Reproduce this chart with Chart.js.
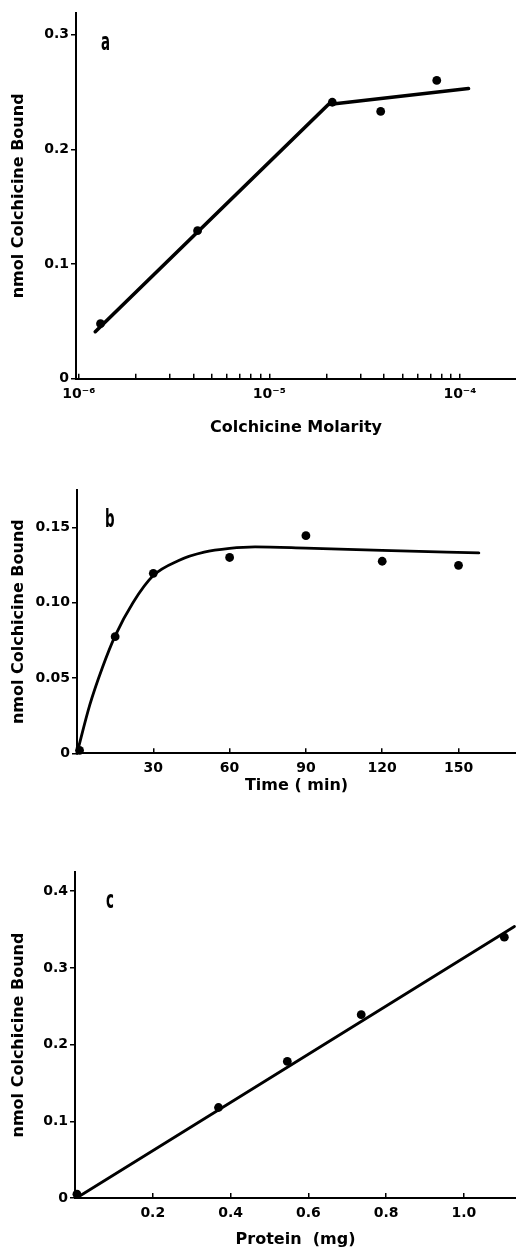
<!DOCTYPE html>
<html>
<head>
<meta charset="utf-8">
<script src="https://cdn.jsdelivr.net/npm/chart.js@4.4.1/dist/chart.umd.min.js"></script>
<style>
  html, body { margin: 0; padding: 0; background: #fff; }
  body { width: 516px; height: 1254px; position: relative; overflow: hidden; }
  canvas { position: absolute; left: 0; }
  .panel { position: absolute; font-family: 'DejaVu Sans Condensed', 'DejaVu Sans', sans-serif; font-weight: bold;
           font-size: 24px; line-height: 24px; color: #000; transform: scaleX(0.62); transform-origin: left top; }
</style>
</head>
<body>
<canvas id="ca" width="516" height="445" style="top:0px"></canvas>
<canvas id="cb" width="516" height="360" style="top:445px"></canvas>
<canvas id="cc" width="516" height="434" style="top:820px"></canvas>
<div class="panel" style="left:101px; top:30px">a</div>
<div class="panel" style="left:105px; top:507px">b</div>
<div class="panel" style="left:106px; top:888px">c</div>
<script>
// ---------- Panel a: binding vs colchicine molarity ----------
const molarityPts = [1.3e-6, 4.2e-6, 2.14e-5, 3.84e-5, 7.56e-5];
const boundPtsA   = [0.048, 0.129, 0.241, 0.233, 0.260];
const molarityFit = [1.22e-6, 2.04e-5, 1.11e-4];
const boundFitA   = [0.041, 0.239, 0.253];
const molarityTicks = [1e-6, 2e-6, 3e-6, 4e-6, 5e-6, 6e-6, 7e-6, 8e-6, 9e-6,
                       1e-5, 2e-5, 3e-5, 4e-5, 5e-5, 6e-5, 7e-5, 8e-5, 9e-5, 1e-4];
const molarityTickLabels = ['10\u207B\u2076', '', '', '', '', '', '', '', '',
                            '10\u207B\u2075', '', '', '', '', '', '', '', '', '10\u207B\u2074'];
const yTicksA = [0, 0.1, 0.2, 0.3];
const yTickLabelsA = ['0', '0.1', '0.2', '0.3'];

// ---------- Panel b: binding vs time ----------
const timePts    = [1, 15, 30, 60, 90, 120, 150];
const boundPtsB  = [0.002, 0.0774, 0.1195, 0.130, 0.1445, 0.1275, 0.1248];
const timeCurve  = [0, 5, 10, 15, 22, 30, 40, 50, 60, 70, 90, 120, 158];
const boundCurveB = [0, 0.032, 0.057, 0.078, 0.100, 0.118, 0.128, 0.1335, 0.136, 0.137, 0.1362, 0.1347, 0.133];
const xTicksB = [30, 60, 90, 120, 150];
const xTickLabelsB = ['30', '60', '90', '120', '150'];
const yTicksB = [0, 0.05, 0.10, 0.15];
const yTickLabelsB = ['0', '0.05', '0.10', '0.15'];

// ---------- Panel c: binding vs protein ----------
const proteinPts = [0.005, 0.369, 0.546, 0.736, 1.104];
const boundPtsC  = [0.005, 0.118, 0.178, 0.239, 0.340];
const proteinFit = [0.01, 1.13];
const boundFitC  = [0.002, 0.354];
const xTicksC = [0.2, 0.4, 0.6, 0.8, 1.0];
const xTickLabelsC = ['0.2', '0.4', '0.6', '0.8', '1.0'];
const yTicksC = [0, 0.1, 0.2, 0.3, 0.4];
const yTickLabelsC = ['0', '0.1', '0.2', '0.3', '0.4'];

const yTitle = 'nmol Colchicine Bound';

Chart.defaults.font.family = "'DejaVu Sans', sans-serif";
Chart.defaults.font.weight = 'bold';
Chart.defaults.font.size = 14;
Chart.defaults.color = '#000';

const zip = (xs, ys) => xs.map((x, i) => ({x: x, y: ys[i]}));

function xScale(type, min, max, tickVals, tickLabels, height, titleText, titlePadBottom, tickPad) {
  return {
    type: type, min: min, max: max,
    afterBuildTicks: s => { s.ticks = tickVals.map(v => ({value: v})); },
    afterFit: s => { s.height = height; s.paddingLeft = 0; s.paddingRight = 0; },
    ticks: { autoSkip: false, maxRotation: 0, minRotation: 0, padding: tickPad,
             callback: (v, i) => tickLabels[i], font: {size: 14, weight: 'bold'} },
    grid: { drawOnChartArea: false, drawTicks: true, tickLength: -5, color: '#000', lineWidth: 1.5 },
    border: { display: true, color: '#000', width: 2 },
    title: { display: true, text: titleText, font: {size: 16, weight: 'bold'},
             padding: {top: 0, bottom: titlePadBottom} }
  };
}
function yScale(min, max, tickVals, tickLabels, width) {
  return {
    type: 'linear', min: min, max: max,
    afterBuildTicks: s => { s.ticks = tickVals.map(v => ({value: v})); },
    afterFit: s => { s.width = width; },
    ticks: { autoSkip: false, padding: 2, callback: (v, i) => tickLabels[i], font: {size: 14, weight: 'bold'} },
    grid: { drawOnChartArea: false, drawTicks: true, tickLength: 5, color: '#000', lineWidth: 1.5 },
    border: { display: true, color: '#000', width: 2 },
    title: { display: true, text: yTitle, font: {size: 16, weight: 'bold'}, padding: {top: 9.4, bottom: 0} }
  };
}
function common(padTop) {
  return {
    responsive: false, animation: false, devicePixelRatio: 1,
    layout: { autoPadding: false, padding: { left: 0, right: 0, top: padTop, bottom: 0 } },
    plugins: { legend: {display: false}, tooltip: {enabled: false}, title: {display: false} },
    events: []
  };
}
function pointsDs(data) {
  return { data: data, showLine: false, pointRadius: 4.4, pointBackgroundColor: '#000',
           pointBorderColor: '#000', pointBorderWidth: 0, clip: false };
}
function lineDs(data, width, smooth) {
  return { data: data, showLine: true, pointRadius: 0, borderColor: '#000', borderWidth: width,
           fill: false, clip: false, cubicInterpolationMode: smooth ? 'monotone' : 'default', tension: 0,
           borderCapStyle: 'round', borderJoinStyle: 'round' };
}

// Panel a
new Chart(document.getElementById('ca'), {
  type: 'line',
  data: { datasets: [ lineDs(zip(molarityFit, boundFitA), 3.6, false), pointsDs(zip(molarityPts, boundPtsA)) ] },
  options: Object.assign(common(13), {
    scales: {
      x: xScale('logarithmic', 0.9667e-6, 1.97e-4, molarityTicks, molarityTickLabels, 66.3, 'Colchicine Molarity', 7.4, 12),
      y: yScale(0, 0.3188, yTicksA, yTickLabelsA, 76)
    }
  })
});

// Panel b
new Chart(document.getElementById('cb'), {
  type: 'line',
  data: { datasets: [ lineDs(zip(timeCurve, boundCurveB), 2.8, true), pointsDs(zip(timePts, boundPtsB)) ] },
  options: Object.assign(common(45), {
    scales: {
      x: xScale('linear', 0, 172.6, xTicksB, xTickLabelsB, 51.7, 'Time ( min)', 9.4, 12),
      y: yScale(0, 0.1748, yTicksB, yTickLabelsB, 77)
    }
  })
});

// Panel c
new Chart(document.getElementById('cc'), {
  type: 'line',
  data: { datasets: [ lineDs(zip(proteinFit, boundFitC), 2.8, false), pointsDs(zip(proteinPts, boundPtsC)) ] },
  options: Object.assign(common(52), {
    scales: {
      x: xScale('linear', 0, 1.134, xTicksC, xTickLabelsC, 56, 'Protein  (mg)', 4.4, 12),
      y: yScale(0, 0.425, yTicksC, yTickLabelsC, 75)
    }
  })
});
</script>
</body>
</html>
